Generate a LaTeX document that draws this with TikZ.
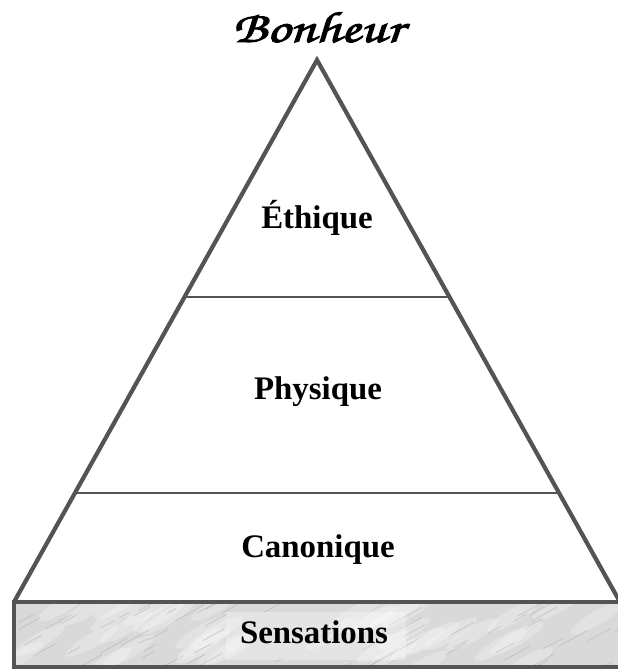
\documentclass[tikz,border=0pt]{standalone}
\usepackage[T1]{fontenc}
\usepackage{fontspec}
\setmainfont{Liberation Serif}
\usetikzlibrary{calc}

\newcommand{\chancery}{\fontencoding{T1}\fontfamily{pzc}\fontseries{mb}\fontshape{it}\selectfont}
\newcommand{\heavy}[1]{\special{pdf:literal direct 2 Tr 0.9 w}#1\special{pdf:literal direct 0 Tr}}

\begin{document}
\begin{tikzpicture}[x=1bp, y=-1bp,
  edge/.style  = {draw=black!67, line width=4.2bp},
  rung/.style  = {draw=black!67, line width=1.8bp},
  layer/.style = {anchor=base, font=\fontsize{33}{39}\selectfont\bfseries},
  vein/.style  = {draw=black!32, line width=0.7bp, opacity=0.55}
]
  \useasboundingbox (0,0) rectangle (618,669);
  \clip (0,0) rectangle (618,669);

  % Corners of the pyramid
  \coordinate (apex) at (317,60);
  \coordinate (bl)   at (14,602);
  \coordinate (br)   at (620,602);

  % Title
  \node[anchor=base, font=\chancery\fontsize{44}{48}\selectfont] (title) at (318,42)
    {\scalebox{1.3}[1]{\heavy{Bonheur}}};

  % Pyramid
  \draw[edge] (bl) -- (apex) -- (br);
  \draw[rung] ($(apex)!0.437!(bl)$) -- ($(apex)!0.437!(br)$);
  \draw[rung] ($(apex)!0.799!(bl)$) -- ($(apex)!0.799!(br)$);

  % Layers
  \node[layer] (ethique)   at (317,228) {Éthique};
  \node[layer] (physique)  at (318,399) {Physique};
  \node[layer] (canonique) at (318,557) {Canonique};

  % Marble base
  \fill[black!15] (14,602) rectangle (640,667);
  \begin{scope}
    \clip (14,602) rectangle (640,667);
    \pgfmathsetseed{11}
    \foreach \i in {1,...,40} {
      \pgfmathsetmacro{\vx}{14+rnd*620}
      \pgfmathsetmacro{\vy}{600+rnd*70}
      \fill[white, opacity=0.25, rotate around={30:(\vx,\vy)}] (\vx,\vy) ellipse (30bp and 7bp);
    }
    \foreach \i in {1,...,80} {
      \pgfmathsetmacro{\vx}{14+rnd*620}
      \pgfmathsetmacro{\vy}{598+rnd*75}
      \pgfmathsetmacro{\vl}{8+rnd*26}
      \draw[vein] (\vx,\vy) -- ++(\vl,-0.55*\vl);
    }
    \fill[white, opacity=0.3] (226,612) rectangle (406,660);
  \end{scope}
  \draw[edge, line width=4.4bp] (14,602) rectangle (640,667);
  \node[layer] (sensations) at (314,643) {Sensations};
\end{tikzpicture}
\end{document}
